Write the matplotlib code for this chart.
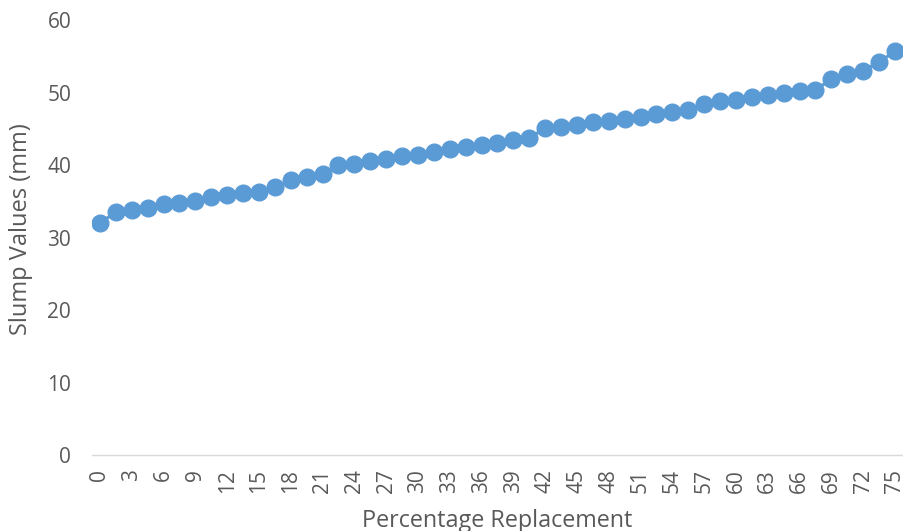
import matplotlib
matplotlib.use("Agg")
import matplotlib.pyplot as plt
import numpy as np

plt.rcParams['font.family'] = ['Open Sans', 'DejaVu Sans']

# Percentage replacement levels (step 1.5) and measured slump values
replacement = [0, 1.5, 3, 4.5, 6, 7.5, 9, 10.5, 12, 13.5, 15, 16.5, 18, 19.5, 21,
               22.5, 24, 25.5, 27, 28.5, 30, 31.5, 33, 34.5, 36, 37.5, 39, 40.5,
               42, 43.5, 45, 46.5, 48, 49.5, 51, 52.5, 54, 55.5, 57, 58.5, 60,
               61.5, 63, 64.5, 66, 67.5, 69, 70.5, 72, 73.5, 75]
slump = [32.0, 33.5, 33.8, 34.1, 34.6, 34.7, 35.1, 35.6, 35.8, 36.1, 36.3, 36.9,
         38.0, 38.4, 38.7, 40.0, 40.2, 40.6, 40.8, 41.2, 41.4, 41.8, 42.2, 42.5,
         42.8, 43.0, 43.5, 43.7, 45.1, 45.3, 45.5, 45.9, 46.1, 46.3, 46.6, 47.0,
         47.3, 47.6, 48.4, 48.8, 49.0, 49.4, 49.7, 50.0, 50.2, 50.4, 51.8, 52.5,
         53.0, 54.2, 55.7]
y_ticks = [0, 10, 20, 30, 40, 50, 60]

TEXT = '#595959'
BLUE = '#5B9BD5'

fig = plt.figure(figsize=(9.04, 5.31), dpi=100)
ax = fig.add_axes([0.1018, 0.1431, 0.897, 0.8192])

idx = np.arange(len(replacement))
ax.plot(idx, slump, color=BLUE, linewidth=2.25, marker='o', markersize=12,
        markerfacecolor=BLUE, markeredgecolor=BLUE, solid_capstyle='round')

ax.set_xlim(-0.5, len(replacement) - 0.5)
ax.set_ylim(0, 60)
ax.set_yticks(y_ticks)
ax.set_yticklabels([str(v) for v in y_ticks])

label_idx = idx[::2]
ax.set_xticks(label_idx)
ax.set_xticklabels([f"{replacement[i]:g}" for i in label_idx], rotation=90)

for s in ['top', 'right', 'left']:
    ax.spines[s].set_visible(False)
ax.spines['bottom'].set_color('#D9D9D9')
ax.spines['bottom'].set_linewidth(1.0)

ax.tick_params(axis='both', length=0, colors=TEXT, labelsize=15)
ax.tick_params(axis='y', pad=15)
ax.tick_params(axis='x', pad=10)

ax.set_ylabel('Slump Values (mm)', color=TEXT, fontsize=17)
ax.set_xlabel('Percentage Replacement', color=TEXT, fontsize=16.8)
ax.yaxis.set_label_coords(-0.073, 0.52)
ax.xaxis.set_label_coords(0.5, -0.123)

fig.savefig('out.png', dpi=100, facecolor='white')
